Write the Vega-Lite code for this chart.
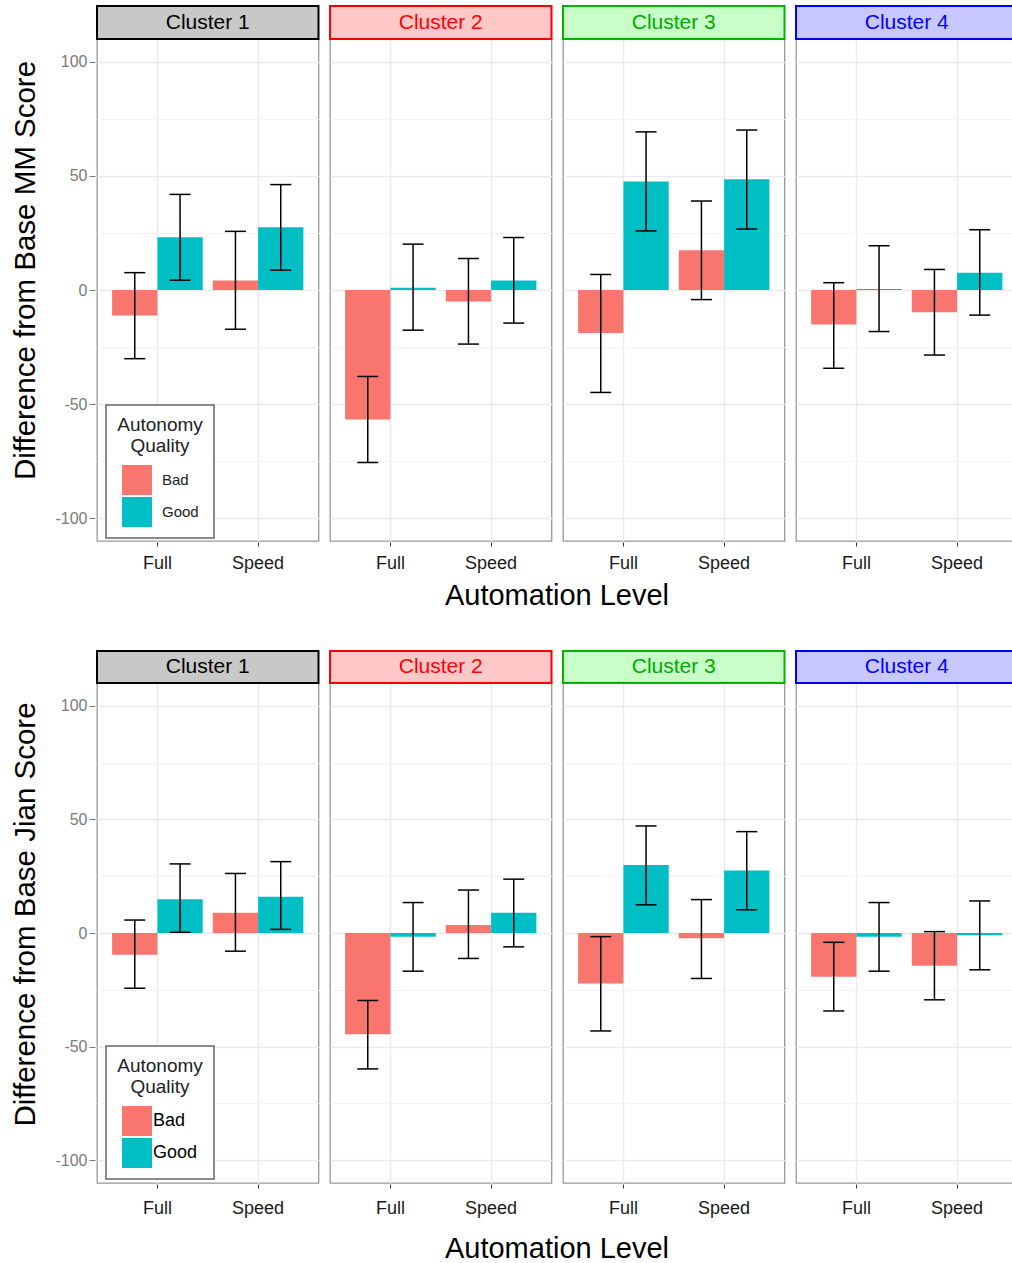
{
  "$schema": "https://vega.github.io/schema/vega-lite/v6.json",
  "background": "white",
  "padding": {"left": 10, "top": 4, "right": 0, "bottom": 0},
  "config": {
    "font": "Liberation Sans",
    "view": {"stroke": "#999999", "strokeWidth": 1.3},
    "legend": {"strokeWidth": 1.5}
  },
  "datasets": {
    "mm": [
      {"cluster": "Cluster 1", "level": "Full", "quality": "Bad", "mean": -11.2, "lo": -30.1, "hi": 7.6},
      {"cluster": "Cluster 1", "level": "Full", "quality": "Good", "mean": 23.1, "lo": 4.3, "hi": 41.9},
      {"cluster": "Cluster 1", "level": "Speed", "quality": "Bad", "mean": 4.2, "lo": -17.2, "hi": 25.7},
      {"cluster": "Cluster 1", "level": "Speed", "quality": "Good", "mean": 27.5, "lo": 8.7, "hi": 46.2},
      {"cluster": "Cluster 2", "level": "Full", "quality": "Bad", "mean": -56.7, "lo": -75.6, "hi": -37.9},
      {"cluster": "Cluster 2", "level": "Full", "quality": "Good", "mean": 1.0, "lo": -17.6, "hi": 20.1},
      {"cluster": "Cluster 2", "level": "Speed", "quality": "Bad", "mean": -5.0, "lo": -23.7, "hi": 13.8},
      {"cluster": "Cluster 2", "level": "Speed", "quality": "Good", "mean": 4.2, "lo": -14.5, "hi": 23.0},
      {"cluster": "Cluster 3", "level": "Full", "quality": "Bad", "mean": -18.8, "lo": -44.9, "hi": 6.8},
      {"cluster": "Cluster 3", "level": "Full", "quality": "Good", "mean": 47.5, "lo": 25.9, "hi": 69.3},
      {"cluster": "Cluster 3", "level": "Speed", "quality": "Bad", "mean": 17.4, "lo": -4.2, "hi": 39.0},
      {"cluster": "Cluster 3", "level": "Speed", "quality": "Good", "mean": 48.5, "lo": 26.7, "hi": 70.1},
      {"cluster": "Cluster 4", "level": "Full", "quality": "Bad", "mean": -15.1, "lo": -34.3, "hi": 3.2},
      {"cluster": "Cluster 4", "level": "Full", "quality": "Good", "mean": 0.4, "lo": -18.2, "hi": 19.4},
      {"cluster": "Cluster 4", "level": "Speed", "quality": "Bad", "mean": -9.7, "lo": -28.5, "hi": 9.0},
      {"cluster": "Cluster 4", "level": "Speed", "quality": "Good", "mean": 7.6, "lo": -11.0, "hi": 26.4}
    ],
    "jian": [
      {"cluster": "Cluster 1", "level": "Full", "quality": "Bad", "mean": -9.6, "lo": -24.3, "hi": 5.7},
      {"cluster": "Cluster 1", "level": "Full", "quality": "Good", "mean": 14.9, "lo": 0.3, "hi": 30.4},
      {"cluster": "Cluster 1", "level": "Speed", "quality": "Bad", "mean": 8.9, "lo": -8.0, "hi": 26.2},
      {"cluster": "Cluster 1", "level": "Speed", "quality": "Good", "mean": 16.0, "lo": 1.6, "hi": 31.4},
      {"cluster": "Cluster 2", "level": "Full", "quality": "Bad", "mean": -44.6, "lo": -59.8, "hi": -29.7},
      {"cluster": "Cluster 2", "level": "Full", "quality": "Good", "mean": -1.6, "lo": -16.8, "hi": 13.4},
      {"cluster": "Cluster 2", "level": "Speed", "quality": "Bad", "mean": 3.5, "lo": -11.2, "hi": 18.9},
      {"cluster": "Cluster 2", "level": "Speed", "quality": "Good", "mean": 8.9, "lo": -6.1, "hi": 23.7},
      {"cluster": "Cluster 3", "level": "Full", "quality": "Bad", "mean": -22.2, "lo": -43.1, "hi": -1.6},
      {"cluster": "Cluster 3", "level": "Full", "quality": "Good", "mean": 29.9, "lo": 12.4, "hi": 47.1},
      {"cluster": "Cluster 3", "level": "Speed", "quality": "Bad", "mean": -2.3, "lo": -20.0, "hi": 14.7},
      {"cluster": "Cluster 3", "level": "Speed", "quality": "Good", "mean": 27.5, "lo": 10.2, "hi": 44.6},
      {"cluster": "Cluster 4", "level": "Full", "quality": "Bad", "mean": -19.2, "lo": -34.3, "hi": -4.1},
      {"cluster": "Cluster 4", "level": "Full", "quality": "Good", "mean": -1.6, "lo": -16.8, "hi": 13.4},
      {"cluster": "Cluster 4", "level": "Speed", "quality": "Bad", "mean": -14.4, "lo": -29.4, "hi": 0.6},
      {"cluster": "Cluster 4", "level": "Speed", "quality": "Good", "mean": -1.0, "lo": -16.2, "hi": 14.1}
    ]
  },
  "spacing": 38,
  "resolve": {"scale": {"color": "independent"}},
  "vconcat": [
    {
      "data": {"name": "mm"},
      "spacing": 7,
      "facet": {"column": {"field": "cluster", "type": "nominal", "header": {"title": "Automation Level", "titleOrient": "bottom", "labels": false, "titleFontSize": 29, "titleFontWeight": "normal", "titleColor": "black", "titlePadding": 0, "titleFont": "Liberation Sans"}}},
      "spec": {
        "width": 221.5,
        "height": 502,
        "layer": [
          {
            "transform": [{"aggregate": [{"op": "count", "as": "n"}], "groupby": ["cluster"]}],
            "mark": {"type": "rect", "clip": false, "strokeWidth": 2},
            "encoding": {
              "y": {"datum": 110, "type": "quantitative", "scale": {"domain": [-110, 110], "nice": false, "zero": false}},
              "y2": {"datum": 124.46},
              "fill": {"field": "cluster", "type": "nominal", "scale": {"domain": ["Cluster 1", "Cluster 2", "Cluster 3", "Cluster 4"], "range": ["#c8c8c8", "#ffc8c8", "#c8ffc8", "#c8c8ff"]}, "legend": null},
              "stroke": {"field": "cluster", "type": "nominal", "scale": {"domain": ["Cluster 1", "Cluster 2", "Cluster 3", "Cluster 4"], "range": ["#000000", "#ff0000", "#00b400", "#0000ff"]}, "legend": null}
            }
          },
          {
            "transform": [{"aggregate": [{"op": "count", "as": "n"}], "groupby": ["cluster"]}],
            "mark": {"type": "text", "clip": false, "fontSize": 21, "font": "Liberation Sans"},
            "encoding": {
              "y": {"datum": 117.23, "type": "quantitative", "scale": {"domain": [-110, 110], "nice": false, "zero": false}},
              "text": {"field": "cluster", "type": "nominal"},
              "color": {"condition": [{"test": "datum.cluster === 'Cluster 2'", "value": "#ff0000"}, {"test": "datum.cluster === 'Cluster 3'", "value": "#00aa00"}, {"test": "datum.cluster === 'Cluster 4'", "value": "#0000ff"}], "value": "#000000"}
            }
          },
          {
            "mark": {"type": "bar"},
            "encoding": {
              "x": {"field": "level", "type": "nominal", "sort": ["Full", "Speed"], "scale": {"paddingInner": 0.1, "paddingOuter": 0.15}, "axis": {"title": null, "labelAngle": 0, "labelFontSize": 18, "labelColor": "#1a1a1a", "labelPadding": 8, "tickSize": 4, "tickColor": "#333333", "domain": false, "grid": true, "gridColor": "#ebebeb", "gridWidth": 1.5, "bandPosition": 0.5}},
              "xOffset": {"field": "quality", "type": "nominal", "sort": ["Bad", "Good"]},
              "y": {"field": "mean", "type": "quantitative", "scale": {"domain": [-110, 110], "nice": false, "zero": false}, "axis": {"title": "Difference from Base MM Score", "titleFontSize": 29.5, "titleFontWeight": "normal", "titleColor": "black", "titlePadding": 14, "titleY": 231, "values": [-100, -75, -50, -25, 0, 25, 50, 75, 100], "labelExpr": "datum.value % 50 === 0 ? '' + datum.value : ''", "labelFontSize": 16, "labelColor": "#7a7a7a", "labelPadding": 2, "tickSize": 6, "tickColor": "#7a7a7a", "tickOpacity": {"condition": {"test": "datum.value % 50 === 0", "value": 1}, "value": 0}, "domain": false, "grid": true, "gridColor": {"condition": {"test": "datum.value % 50 === 0", "value": "#ebebeb"}, "value": "#f4f4f4"}, "gridWidth": {"condition": {"test": "datum.value % 50 === 0", "value": 1.5}, "value": 1}}},
              "y2": {"datum": 0},
              "color": {"field": "quality", "type": "nominal", "scale": {"domain": ["Bad", "Good"], "range": ["#F8766D", "#00BFC4"]}, "legend": {"orient": "none", "legendX": 9, "legendY": 366, "title": ["Autonomy", "Quality"], "titleFontSize": 19, "titleFontWeight": "normal", "titleColor": "#222222", "titleAnchor": "middle", "titleAlign": "center", "titleLineHeight": 21, "titlePadding": 9, "labelFontSize": 15, "labelColor": "#222222", "labelOffset": 10, "symbolType": "square", "symbolSize": 900, "symbolStrokeWidth": 0, "symbolOpacity": 1, "rowPadding": 2, "padding": 11, "strokeColor": "#666666", "fillColor": "white"}}
            }
          },
          {
            "mark": {"type": "rule", "strokeWidth": 1.5, "color": "black"},
            "encoding": {
              "x": {"field": "level", "type": "nominal", "sort": ["Full", "Speed"]},
              "xOffset": {"field": "quality", "type": "nominal", "sort": ["Bad", "Good"]},
              "y": {"field": "lo", "type": "quantitative", "scale": {"domain": [-110, 110], "nice": false, "zero": false}, "title": "Difference from Base MM Score"},
              "y2": {"field": "hi"}
            }
          },
          {
            "mark": {"type": "tick", "thickness": 1.5, "size": 21, "color": "black", "opacity": 1},
            "encoding": {
              "x": {"field": "level", "type": "nominal", "sort": ["Full", "Speed"]},
              "xOffset": {"field": "quality", "type": "nominal", "sort": ["Bad", "Good"]},
              "y": {"field": "lo", "type": "quantitative", "scale": {"domain": [-110, 110], "nice": false, "zero": false}, "title": "Difference from Base MM Score"}
            }
          },
          {
            "mark": {"type": "tick", "thickness": 1.5, "size": 21, "color": "black", "opacity": 1},
            "encoding": {
              "x": {"field": "level", "type": "nominal", "sort": ["Full", "Speed"]},
              "xOffset": {"field": "quality", "type": "nominal", "sort": ["Bad", "Good"]},
              "y": {"field": "hi", "type": "quantitative", "scale": {"domain": [-110, 110], "nice": false, "zero": false}, "title": "Difference from Base MM Score"}
            }
          }
        ]
      }
    },
    {
      "data": {"name": "jian"},
      "spacing": 7,
      "facet": {"column": {"field": "cluster", "type": "nominal", "header": {"title": "Automation Level", "titleOrient": "bottom", "labels": false, "titleFontSize": 29, "titleFontWeight": "normal", "titleColor": "black", "titlePadding": 8, "titleFont": "Liberation Sans"}}},
      "spec": {
        "width": 221.5,
        "height": 500,
        "layer": [
          {
            "transform": [{"aggregate": [{"op": "count", "as": "n"}], "groupby": ["cluster"]}],
            "mark": {"type": "rect", "clip": false, "strokeWidth": 2},
            "encoding": {
              "y": {"datum": 110, "type": "quantitative", "scale": {"domain": [-110, 110], "nice": false, "zero": false}},
              "y2": {"datum": 124.1},
              "fill": {"field": "cluster", "type": "nominal", "scale": {"domain": ["Cluster 1", "Cluster 2", "Cluster 3", "Cluster 4"], "range": ["#c8c8c8", "#ffc8c8", "#c8ffc8", "#c8c8ff"]}, "legend": null},
              "stroke": {"field": "cluster", "type": "nominal", "scale": {"domain": ["Cluster 1", "Cluster 2", "Cluster 3", "Cluster 4"], "range": ["#000000", "#ff0000", "#00b400", "#0000ff"]}, "legend": null}
            }
          },
          {
            "transform": [{"aggregate": [{"op": "count", "as": "n"}], "groupby": ["cluster"]}],
            "mark": {"type": "text", "clip": false, "fontSize": 21, "font": "Liberation Sans"},
            "encoding": {
              "y": {"datum": 117.05, "type": "quantitative", "scale": {"domain": [-110, 110], "nice": false, "zero": false}},
              "text": {"field": "cluster", "type": "nominal"},
              "color": {"condition": [{"test": "datum.cluster === 'Cluster 2'", "value": "#ff0000"}, {"test": "datum.cluster === 'Cluster 3'", "value": "#00aa00"}, {"test": "datum.cluster === 'Cluster 4'", "value": "#0000ff"}], "value": "#000000"}
            }
          },
          {
            "mark": {"type": "bar"},
            "encoding": {
              "x": {"field": "level", "type": "nominal", "sort": ["Full", "Speed"], "scale": {"paddingInner": 0.1, "paddingOuter": 0.15}, "axis": {"title": null, "labelAngle": 0, "labelFontSize": 18, "labelColor": "#1a1a1a", "labelPadding": 11, "tickSize": 4, "tickColor": "#333333", "domain": false, "grid": true, "gridColor": "#ebebeb", "gridWidth": 1.5, "bandPosition": 0.5}},
              "xOffset": {"field": "quality", "type": "nominal", "sort": ["Bad", "Good"]},
              "y": {"field": "mean", "type": "quantitative", "scale": {"domain": [-110, 110], "nice": false, "zero": false}, "axis": {"title": "Difference from Base Jian Score", "titleFontSize": 29.5, "titleFontWeight": "normal", "titleColor": "black", "titlePadding": 14, "titleY": 231, "values": [-100, -75, -50, -25, 0, 25, 50, 75, 100], "labelExpr": "datum.value % 50 === 0 ? '' + datum.value : ''", "labelFontSize": 16, "labelColor": "#7a7a7a", "labelPadding": 2, "tickSize": 6, "tickColor": "#7a7a7a", "tickOpacity": {"condition": {"test": "datum.value % 50 === 0", "value": 1}, "value": 0}, "domain": false, "grid": true, "gridColor": {"condition": {"test": "datum.value % 50 === 0", "value": "#ebebeb"}, "value": "#f4f4f4"}, "gridWidth": {"condition": {"test": "datum.value % 50 === 0", "value": 1.5}, "value": 1}}},
              "y2": {"datum": 0},
              "color": {"field": "quality", "type": "nominal", "scale": {"domain": ["Bad", "Good"], "range": ["#F8766D", "#00BFC4"]}, "legend": {"orient": "none", "legendX": 9, "legendY": 363, "title": ["Autonomy", "Quality"], "titleFontSize": 19, "titleFontWeight": "normal", "titleColor": "#222222", "titleAnchor": "middle", "titleAlign": "center", "titleLineHeight": 21, "titlePadding": 9, "labelFontSize": 18, "labelColor": "#000000", "labelOffset": 1, "symbolType": "square", "symbolSize": 900, "symbolStrokeWidth": 0, "symbolOpacity": 1, "rowPadding": 2, "padding": 11, "strokeColor": "#666666", "fillColor": "white"}}
            }
          },
          {
            "mark": {"type": "rule", "strokeWidth": 1.5, "color": "black"},
            "encoding": {
              "x": {"field": "level", "type": "nominal", "sort": ["Full", "Speed"]},
              "xOffset": {"field": "quality", "type": "nominal", "sort": ["Bad", "Good"]},
              "y": {"field": "lo", "type": "quantitative", "scale": {"domain": [-110, 110], "nice": false, "zero": false}, "title": "Difference from Base Jian Score"},
              "y2": {"field": "hi"}
            }
          },
          {
            "mark": {"type": "tick", "thickness": 1.5, "size": 21, "color": "black", "opacity": 1},
            "encoding": {
              "x": {"field": "level", "type": "nominal", "sort": ["Full", "Speed"]},
              "xOffset": {"field": "quality", "type": "nominal", "sort": ["Bad", "Good"]},
              "y": {"field": "lo", "type": "quantitative", "scale": {"domain": [-110, 110], "nice": false, "zero": false}, "title": "Difference from Base Jian Score"}
            }
          },
          {
            "mark": {"type": "tick", "thickness": 1.5, "size": 21, "color": "black", "opacity": 1},
            "encoding": {
              "x": {"field": "level", "type": "nominal", "sort": ["Full", "Speed"]},
              "xOffset": {"field": "quality", "type": "nominal", "sort": ["Bad", "Good"]},
              "y": {"field": "hi", "type": "quantitative", "scale": {"domain": [-110, 110], "nice": false, "zero": false}, "title": "Difference from Base Jian Score"}
            }
          }
        ]
      }
    }
  ]
}
